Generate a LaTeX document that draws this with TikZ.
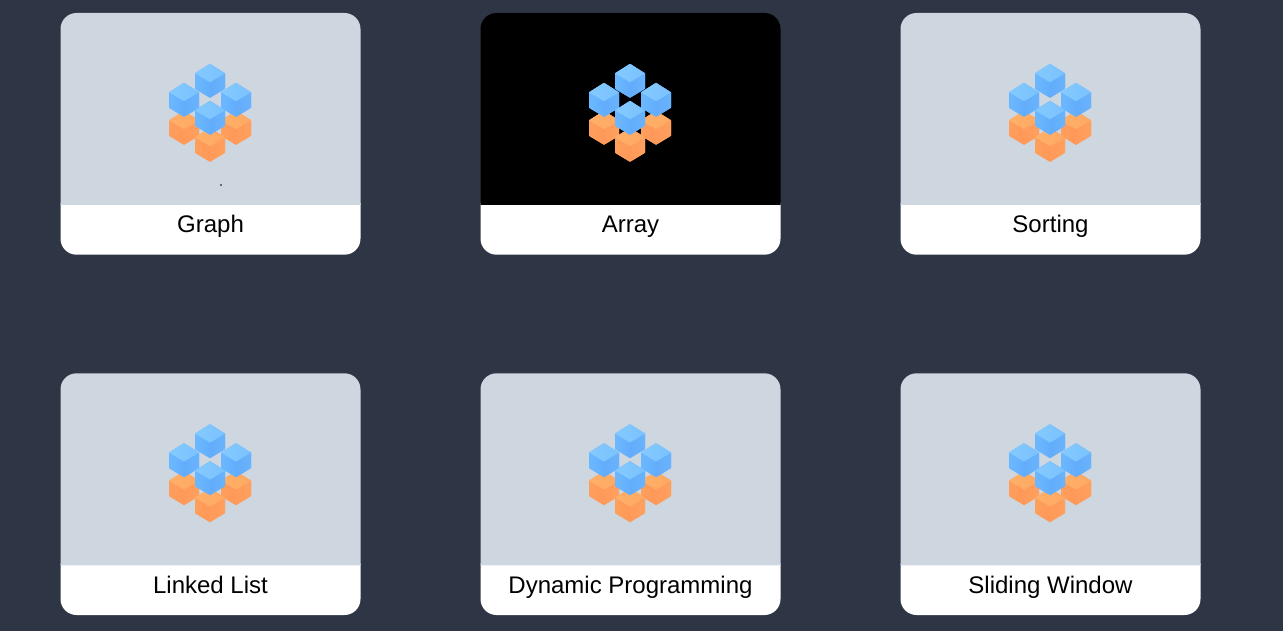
\documentclass[tikz,border=0pt]{standalone}
\usepackage{fontspec}
\setmainfont{Liberation Sans}
\definecolor{pagebg}{HTML}{2E3544}
\definecolor{imgbg}{HTML}{CED6E0}
\tikzset{
  x=1pt,y=-1pt,
  cardtitle/.style={font=\fontsize{24}{28}\selectfont,text=black,anchor=base,inner sep=0pt},
  pics/cube/.style n args={7}{code={
    \definecolor{cA}{HTML}{#1}\definecolor{cB}{HTML}{#2}\definecolor{cC}{HTML}{#3}\definecolor{cD}{HTML}{#4}\definecolor{cE}{HTML}{#5}\definecolor{cF}{HTML}{#6}\definecolor{cG}{HTML}{#7}
    \begin{scope}[rounded corners=1pt]
    \fill[cG] (0,0) -- (15,9.5) -- (15,25) -- (0,34) -- (-15,25) -- (-15,9.5) -- cycle;
    \clip (0,0) -- (15,9.5) -- (15,25) -- (0,34) -- (-15,25) -- (-15,9.5) -- cycle;
    \end{scope}
    \shade[left color=cC,right color=cD] (-15,9) -- (0,18) -- (0,34) -- (-15,25) -- cycle;
    \shade[left color=cE,right color=cF] (15,9) -- (0,18) -- (0,34) -- (15,25) -- cycle;
    \shade[left color=cA,right color=cB] (0,0) -- (15,9.5) -- (0,18.5) -- (-15,9.5) -- cycle;
  }},
  pics/bluecube/.style={code={\begin{scope}\pic {cube={84CAFF}{7AC2FF}{6CB8FF}{62AEFD}{62ACFB}{6AB3FC}{69B2FC}};\end{scope}}},
  pics/orangecube/.style={code={\begin{scope}\pic {cube={FFB068}{FFA963}{FF9F5C}{FF9859}{FF9A5A}{FFA05E}{FF9F5E}};\end{scope}}},
  pics/blockicon/.style={code={
    \pic at (-26,47) {orangecube};
    \pic at (26,47) {orangecube};
    \pic at (0,64) {orangecube};
    \pic at (0,0) {bluecube};
    \pic at (-26,19) {bluecube};
    \pic at (26,19) {bluecube};
    \pic at (0,37) {bluecube};
  }},
  pics/card/.style n args={2}{code={
    \fill[white] (0,190) [sharp corners] -- (300,190) [rounded corners=16pt] -- (300,241.7) -- (0,241.7) [sharp corners] -- (0,190) -- cycle;
    \fill[#2] (0,192) [rounded corners=16pt] -- (0,0) -- (300,0) [sharp corners] -- (300,192) -- cycle;
    \pic at (149.5,50.8) {blockicon};
    \node[cardtitle] (t) at (150,219.8) {#1};
  }},
}
\begin{document}
\begin{tikzpicture}
\useasboundingbox (0,0) rectangle (1283,631);
\fill[pagebg] (0,0) rectangle (1283,631);
\pic at (60.5,13) {card={Graph}{imgbg}};
\pic at (480.5,13) {card={Array}{black}};
\pic at (900.5,13) {card={Sorting}{imgbg}};
\pic at (60.5,373.3) {card={Linked List}{imgbg}};
\pic at (480.5,373.3) {card={Dynamic Programming}{imgbg}};
\pic at (900.5,373.3) {card={Sliding Window}{imgbg}};
\fill[black] (221,185) circle (0.8);
\end{tikzpicture}
\end{document}
